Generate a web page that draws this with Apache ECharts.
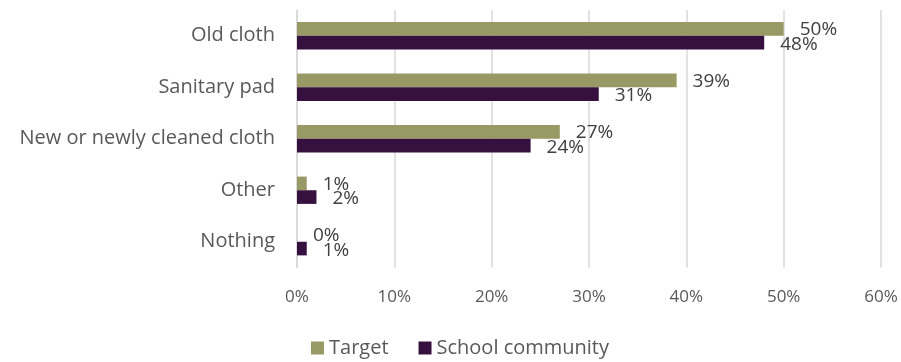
<!DOCTYPE html>
<html><head><meta charset="utf-8">
<script src="https://cdn.jsdelivr.net/npm/echarts@6/dist/echarts.min.js"></script>
<style>html,body{margin:0;padding:0;background:#fff}#c{width:901px;height:362px}</style>
</head><body><div id="c"></div>
<script>
var categories = ["Old cloth", "Sanitary pad", "New or newly cleaned cloth", "Other", "Nothing"];
var targetValues = [50, 39, 27, 1, 0];
var schoolValues = [48, 31, 24, 2, 1];
var seriesNames = ["Target", "School community"];
var xTicks = [0, 10, 20, 30, 40, 50, 60];

var FONT = "Open Sans";
var chart = echarts.init(document.getElementById('c'));
chart.setOption({
  animation: false,
  textStyle: { fontFamily: FONT },
  grid: { left: 297, right: 20, top: 10, bottom: 94.5, containLabel: false },
  legend: {
    data: seriesNames, top: 335, left: 311, itemWidth: 13, itemHeight: 13, itemGap: 30,
    padding: 0, icon: 'rect',
    textStyle: { fontFamily: FONT, fontSize: 20, color: '#595959', lineHeight: 26 }
  },
  xAxis: {
    type: 'value', min: xTicks[0], max: xTicks[xTicks.length - 1], interval: 10,
    axisLine: { show: false }, axisTick: { show: false },
    splitLine: { lineStyle: { color: '#d9d9d9', width: 1.5 } },
    axisLabel: { formatter: '{value}%', fontFamily: FONT, fontSize: 17, color: '#595959', margin: 21 }
  },
  yAxis: {
    type: 'category', data: categories, inverse: true,
    axisLine: { show: true, lineStyle: { color: '#d9d9d9', width: 1.5 } },
    axisTick: { show: false },
    axisLabel: { fontFamily: FONT, fontSize: 20, color: '#595959', margin: 22 }
  },
  series: [
    { name: seriesNames[0], type: 'bar', data: targetValues, barGap: '0%', barCategoryGap: '47%',
      itemStyle: { color: '#999966' },
      label: { show: true, position: 'right', distance: 16, offset: [0, 1], formatter: '{c}%', fontFamily: FONT, fontSize: 19, color: '#404040' } },
    { name: seriesNames[1], type: 'bar', data: schoolValues, barGap: '0%', barCategoryGap: '47%',
      itemStyle: { color: '#36103f' },
      label: { show: true, position: 'right', distance: 16, offset: [0, 2], formatter: '{c}%', fontFamily: FONT, fontSize: 19, color: '#404040' } }
  ]
});
</script></body></html>
